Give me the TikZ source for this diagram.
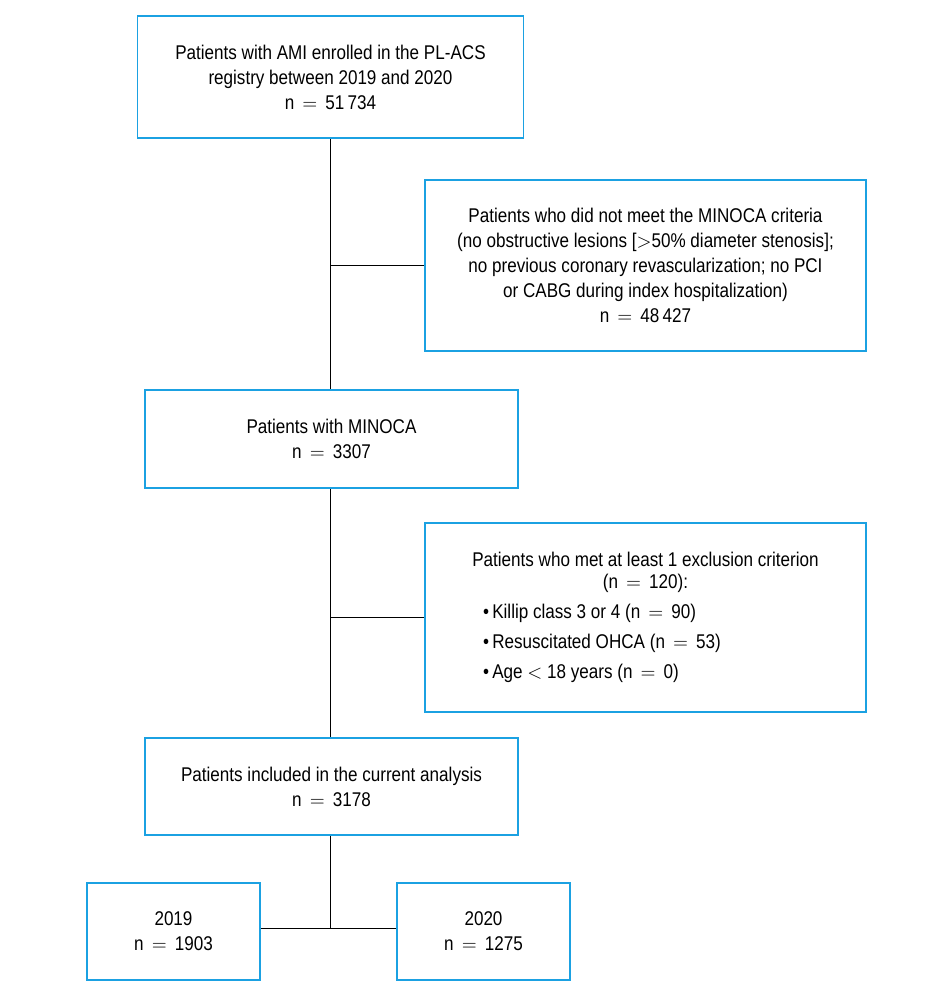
\documentclass[tikz,border=0pt]{standalone}
\usepackage{fontspec}
\setmainfont[FakeStretch=0.86]{Liberation Sans}
\usepackage{xcolor}
\usetikzlibrary{calc}
\usetikzlibrary{positioning}
\definecolor{boxblue}{HTML}{1BA1E2}
\newcommand{\eqsign}{\,$=$\,}
\tikzset{
    flowbox/.style={rectangle, draw=boxblue, line width=1.1pt, align=center, inner sep=0pt, font=\fontsize{11.3}{14.2}\selectfont},
    link/.style={draw=black, line width=0.6pt}
}

\begin{document}
\begin{tikzpicture}
    \useasboundingbox (0,0) rectangle (19.02,-19.98);
    \node [flowbox, minimum width=7.72cm, minimum height=2.44cm] (enrolled) at (6.61,-1.54) {Patients with AMI enrolled in the PL-ACS\\registry between 2019 and 2020\\n \eqsign{} 51\,734};
    \node [flowbox, minimum width=8.82cm, minimum height=3.42cm] (notMinoca) at (12.91,-5.31) {Patients who did not meet the MINOCA criteria\\(no obstructive lesions [$>$50\% diameter stenosis];\\no previous coronary revascularization; no PCI\\or CABG during index hospitalization)\\n \eqsign{} 48\,427};
    \node [flowbox, minimum width=7.46cm, minimum height=1.96cm] (minoca) at (6.63,-8.78) {Patients with MINOCA\\n \eqsign{} 3307};
    \node [flowbox, minimum width=8.82cm, minimum height=3.78cm] (excluded) at (12.91,-12.35) {\raisebox{-2pt}{Patients who met at least 1 exclusion criterion}\\(n \eqsign{} 120):\\[3pt]
        \makebox[6.5cm][l]{\textbullet\,Killip class 3 or 4 (n \eqsign{} 90)}\\[3pt]
        \makebox[6.5cm][l]{\textbullet\,Resuscitated OHCA (n \eqsign{} 53)}\\[3pt]
        \makebox[6.5cm][l]{\textbullet\,Age $<$ 18 years (n \eqsign{} 0)}};
    \node [flowbox, minimum width=7.46cm, minimum height=1.94cm] (included) at (6.63,-15.73) {Patients included in the current analysis\\n \eqsign{} 3178};
    \node [flowbox, minimum width=3.46cm, minimum height=1.94cm] (year2019) at (3.47,-18.63) {2019\\n \eqsign{} 1903};
    \node [flowbox, minimum width=3.46cm, minimum height=1.94cm] (year2020) at (9.67,-18.63) {2020\\n \eqsign{} 1275};
    \coordinate (split) at ($(year2019.east)+(0,0.06)$);

    \draw [link] (enrolled.south) -- (enrolled.south |- minoca.north);
    \draw [link] (enrolled.south |- notMinoca.west) -- (notMinoca.west);
    \draw [link] (enrolled.south |- minoca.south) -- (enrolled.south |- included.north);
    \draw [link] (enrolled.south |- excluded.west) -- (excluded.west);
    \draw [link] (enrolled.south |- included.south) -- (enrolled.south |- split);
    \draw [link] (split) -- (split -| year2020.west);
\end{tikzpicture}
\end{document}
